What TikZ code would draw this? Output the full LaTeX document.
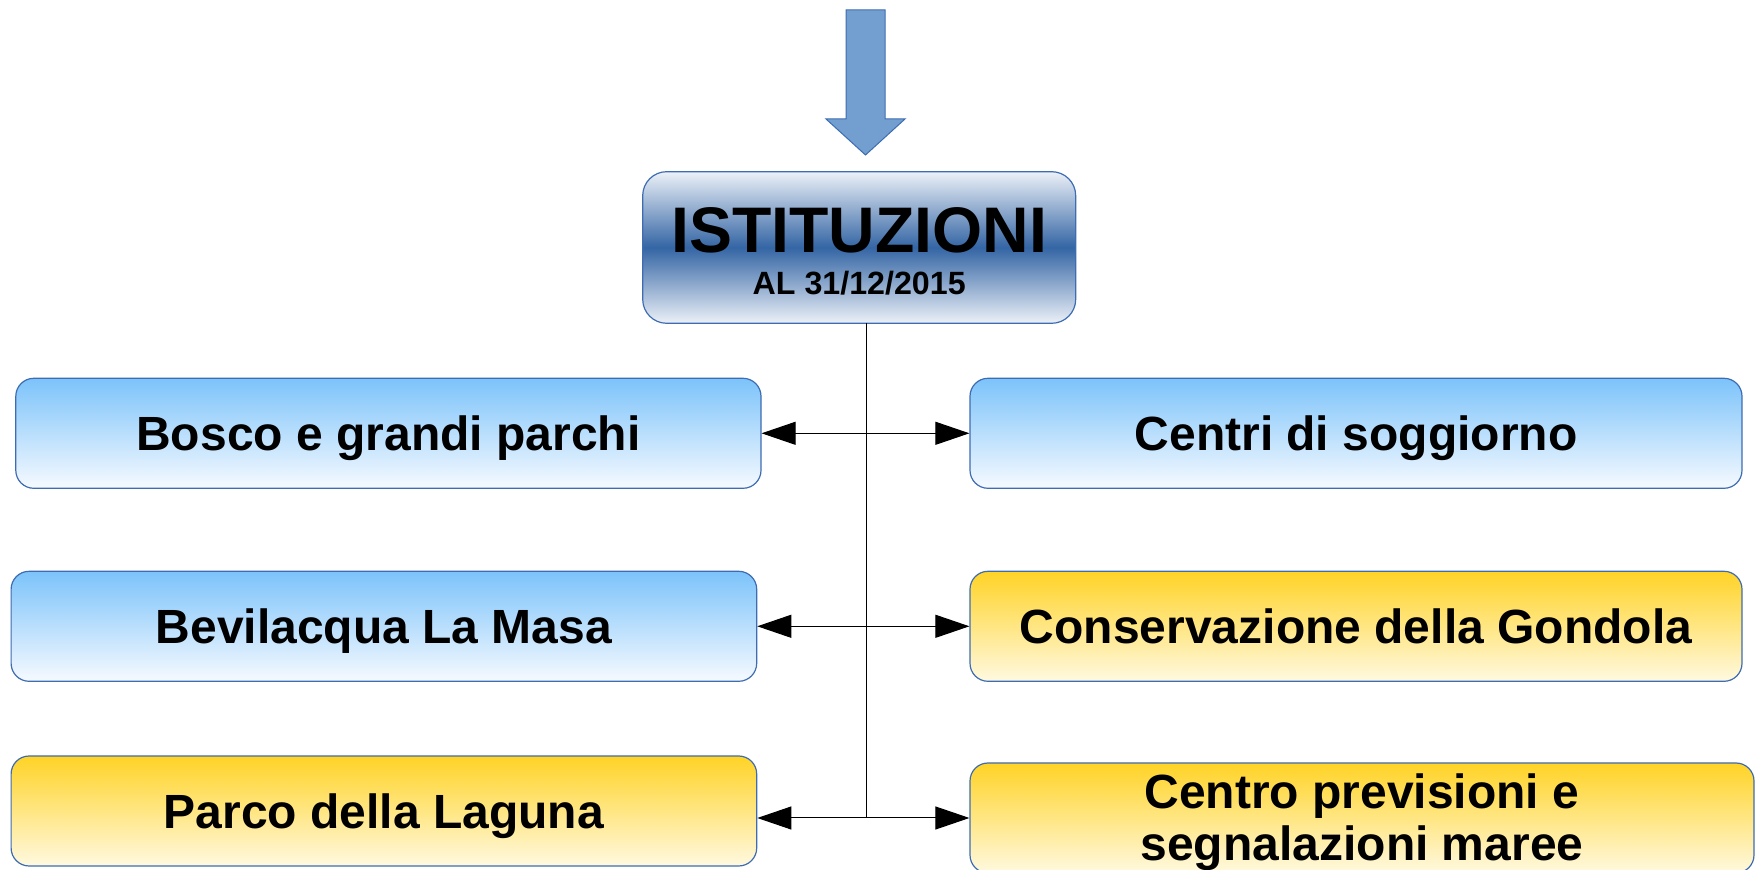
\documentclass[tikz,border=0pt]{standalone}
\usepackage{fontspec}
\setmainfont{Liberation Sans}
\usetikzlibrary{arrows.meta}
\definecolor{boxline}{RGB}{62,108,178}
\definecolor{arrowfill}{RGB}{114,159,207}
\definecolor{titleedge}{RGB}{236,241,248}
\definecolor{titlemid}{RGB}{52,101,164}
\definecolor{bluetop}{RGB}{124,195,250}
\definecolor{bluebot}{RGB}{246,250,255}
\definecolor{yellowtop}{RGB}{255,211,38}
\definecolor{yellowbot}{RGB}{255,249,224}

\begin{document}
\begin{tikzpicture}[x=0.5pt, y=-0.5pt,
  box/.style={draw=boxline, line width=0.6pt, rounded corners=9pt, inner sep=0pt,
    minimum height=55pt, text height=17.4pt, text depth=0pt, align=center,
    font=\bfseries\fontsize{24}{26.2}\selectfont},
  bluebox/.style={box, top color=bluetop, bottom color=bluebot},
  yellowbox/.style={box, top color=yellowtop, bottom color=yellowbot},
  title/.style={draw=boxline, line width=0.6pt, rounded corners=12pt, inner sep=0pt,
    minimum width=216.5pt, minimum height=75.8pt, align=center,
    text height=47.5pt, text depth=0pt,
    top color=titleedge, bottom color=titleedge, middle color=titlemid,
    font=\bfseries\fontsize{16.1}{21.35}\selectfont},
  link/.style={arrows={Triangle[length=17pt, width=11.5pt]-Triangle[length=17pt, width=11.5pt]},
    line width=0.5pt}]
\useasboundingbox (0,0) rectangle (1757,870);
% Arrow into the title
\draw[fill=arrowfill, draw=boxline, line width=0.5pt] (846,10) -- (885,10) -- (885,119)
  -- (905,119) -- (865.5,155) -- (826,119) -- (846,119) -- cycle;
% Title
\node[title] (istituzioni) at (859.2,247.5)
  {{\fontsize{32.2}{21.35}\selectfont ISTITUZIONI}\\AL 31/12/2015};
% Left column
\node[bluebox, minimum width=372.6pt] (bosco) at (388.4,433.3) {Bosco e grandi parchi};
\node[bluebox, minimum width=372.8pt] (bevilacqua) at (383.9,626.3) {Bevilacqua La Masa};
\node[yellowbox, minimum width=372.8pt] (laguna) at (383.9,811) {Parco della Laguna};
% Right column
\node[bluebox, minimum width=386pt] (soggiorno) at (1356,433.3) {Centri di soggiorno};
\node[yellowbox, minimum width=386pt] (gondola) at (1356,626.3) {Conservazione della Gondola};
\node[yellowbox, minimum width=392pt, text height=42.7pt] (maree) at (1362,818)
  {Centro previsioni e\\segnalazioni maree};
% Spine and links
\coordinate (spine) at (866,323.3);
\draw[line width=0.5pt] (spine) -- (spine |- maree.west);
\draw[link] (bosco.east) -- (soggiorno.west);
\draw[link] (bevilacqua.east) -- (gondola.west);
\draw[link] (laguna.east |- maree.west) -- (maree.west);
\end{tikzpicture}
\end{document}
